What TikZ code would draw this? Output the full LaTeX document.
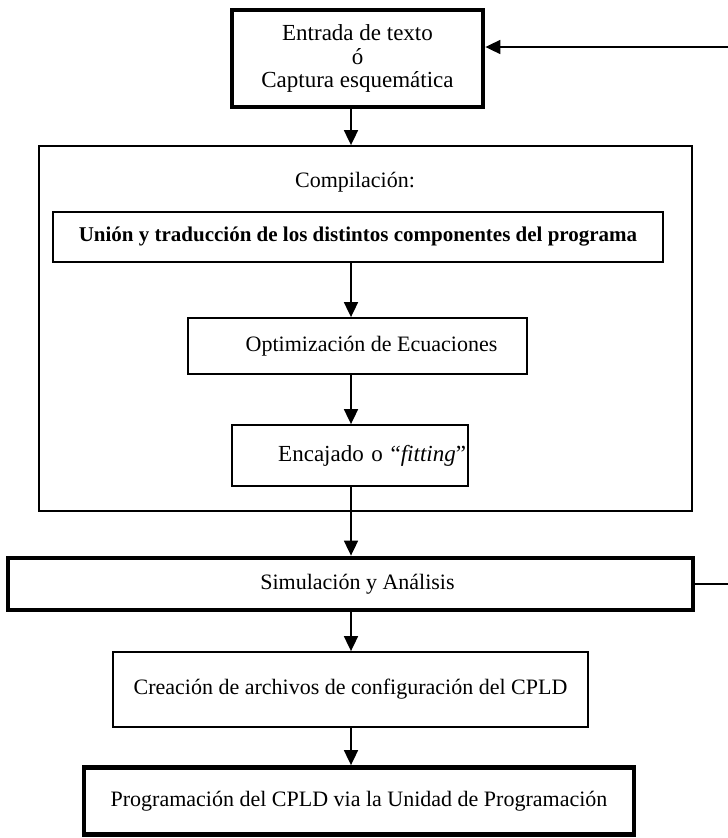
\documentclass[tikz,border=0pt]{standalone}
\usepackage{fontspec}
\setmainfont{Liberation Serif}
\usetikzlibrary{arrows.meta}
\begin{document}
\begin{tikzpicture}[x=1pt,y=-1pt,
  box/.style={draw, line width=1.8pt, inner sep=0pt, font=\fontsize{22}{23}\selectfont, align=center},
  thickbox/.style={box, line width=4.8pt},
  arr/.style={line width=1.8pt, -{Triangle[length=15pt,width=14pt]}},
  conn/.style={line width=1.8pt}]
\useasboundingbox (0,0) rectangle (728,838);
\clip (0,0) rectangle (728,838);
\fill[white] (0,0) rectangle (728,838);

\node[thickbox, minimum width=251, minimum height=97, font=\fontsize{23}{23.5}\selectfont] (ent) at (357.5,58.5)
  {Entrada de texto\\ ó\\ Captura esquemática};
\node[box, minimum width=653, minimum height=365] (comp) at (365.5,328.5) {};
\node[font=\fontsize{22}{23}\selectfont] (complabel) at (355,182) {Compilación:};
\node[box, minimum width=610, minimum height=50, font=\fontsize{21}{23}\selectfont\bfseries] (union) at (358,237)
  {Unión y traducción de los distintos componentes del programa};
\node[box, minimum width=339, minimum height=56] (opt) at (357.5,346)
  {\hspace*{28pt}Optimización de Ecuaciones};
\node[box, minimum width=236, minimum height=61, text width=232, align=right, font=\fontsize{23}{23}\selectfont] (enc) at (350,455.5)
  {Encajado o “\textit{fitting}”};
\node[thickbox, minimum width=685, minimum height=52] (sim) at (350.5,584)
  {\hspace*{14pt}Simulación y Análisis};
\node[box, minimum width=475, minimum height=75] (cre) at (350.5,689.5)
  {Creación de archivos de configuración del CPLD};
\node[thickbox, minimum width=550, minimum height=67] (prog) at (359,801)
  {Programación del CPLD via la Unidad de Programación};

\coordinate (ax) at (351,0);
\draw[arr] (ent.south -| ax) -- (comp.north -| ax);
\draw[arr] (union.south -| ax) -- (opt.north -| ax);
\draw[arr] (opt.south -| ax) -- (enc.north -| ax);
\draw[arr] (enc.south -| ax) -- (sim.north -| ax);
\draw[arr] (sim.south -| ax) -- (cre.north -| ax);
\draw[arr] (cre.south -| ax) -- (prog.north -| ax);

\coordinate (fbtop) at (740,47);
\coordinate (fbbot) at (740,584);
\draw[conn] (sim.east) -- (fbbot) -- (fbtop);
\draw[arr] (fbtop) -- (ent.east |- fbtop);
\end{tikzpicture}
\end{document}
